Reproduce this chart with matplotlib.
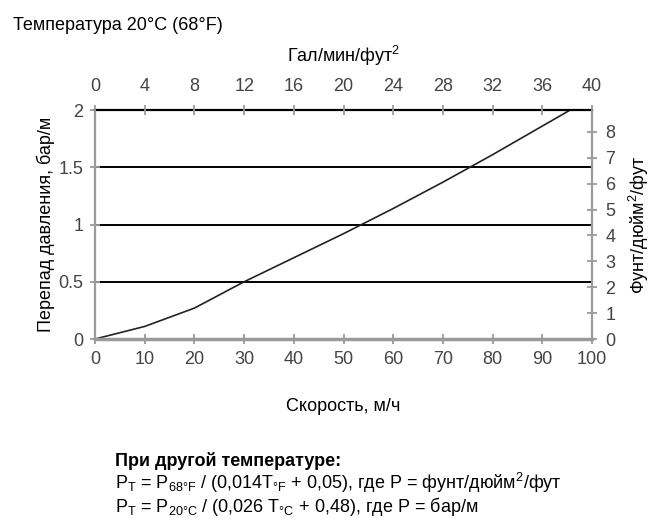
import matplotlib
matplotlib.use("Agg")
import matplotlib.pyplot as plt

# скорость (м/ч) и перепад давления (бар/м)
speed = [0, 10, 20, 30, 40, 50, 60, 70, 80, 90, 95.6]
dp = [0, 0.11, 0.27, 0.5, 0.71, 0.92, 1.14, 1.37, 1.61, 1.86, 2.0]

x_ticks = [0, 10, 20, 30, 40, 50, 60, 70, 80, 90, 100]
y_ticks = [0, 0.5, 1, 1.5, 2]
y_labels = ["0", "0.5", "1", "1.5", "2"]
gpm_ticks = [0, 4, 8, 12, 16, 20, 24, 28, 32, 36, 40]
psi_ticks = [0, 1, 2, 3, 4, 5, 6, 7, 8]
grid_levels = [0.5, 1, 1.5, 2]

psi_per_bar = 14.5038 / 3.28084

plt.rcParams['font.family'] = ['Liberation Sans', 'DejaVu Sans']
plt.rcParams['mathtext.fontset'] = 'custom'
plt.rcParams['mathtext.rm'] = 'Liberation Sans'
plt.rcParams['mathtext.it'] = 'Liberation Sans'

gray = "#9a9a9a"
tick_col = "#444444"
fs = 13

fig = plt.figure(figsize=(6.5, 5.19), dpi=100)
ax = fig.add_axes([0.1462, 0.3468, 0.7646, 0.4412])

for lv in grid_levels:
    ax.axhline(lv, color="black", lw=1.4, zorder=1)
ax.plot(speed, dp, color="#222222", lw=1.2, zorder=2)

ax.set_xlim(0, 100)
ax.set_ylim(0, 2)
ax.set_xticks(x_ticks)
ax.set_yticks(y_ticks)
ax.set_yticklabels(y_labels)
ax.tick_params(direction="inout", length=7, width=1.3, color=gray,
               labelsize=fs, labelcolor=tick_col, pad=5)
ax.spines["left"].set_color(gray)
ax.spines["left"].set_linewidth(1.6)
ax.spines["bottom"].set_color(gray)
ax.spines["bottom"].set_linewidth(2.5)
ax.spines["top"].set_color("black")
ax.spines["top"].set_linewidth(1.6)
ax.spines["right"].set_color(gray)
ax.spines["right"].set_linewidth(1.6)

# правая ось: фунт/дюйм2/фут
axr = ax.twinx()
axr.set_ylim(0, 2 * psi_per_bar)
axr.set_yticks(psi_ticks)
axr.tick_params(direction="inout", length=7, width=1.3, color=gray,
                labelsize=fs, labelcolor=tick_col, pad=6)
for s in axr.spines.values():
    s.set_visible(False)

# верхняя ось: гал/мин/фут2
axt = ax.twiny()
axt.set_xlim(0, 40)
axt.set_xticks(gpm_ticks)
axt.tick_params(direction="inout", length=7, width=1.3, color=gray,
                labelsize=fs, labelcolor=tick_col, pad=7)
for s in axt.spines.values():
    s.set_visible(False)

ax.set_xlabel("Скорость, м/ч", fontsize=fs, labelpad=22)
ax.set_ylabel("Перепад давления, бар/м", fontsize=fs, labelpad=2)
axr.set_ylabel("Фунт/дюйм$^2$/фут", fontsize=fs, labelpad=8)
axt.set_xlabel("Гал/мин/фут$^2$", fontsize=fs, labelpad=12)

fig.text(13 / 650, 1 - 25 / 519, "Температура 20°C (68°F)", fontsize=fs,
         ha="left", va="center")

fig.text(115 / 650, 1 - 461 / 519, "При другой температуре:", fontsize=fs,
         fontweight="bold", ha="left", va="center")
fig.text(115 / 650, 1 - 483 / 519,
         r"P$_\mathrm{T}$ = P$_\mathrm{68°F}$ / (0,014T$_\mathrm{°F}$ + 0,05), где P = фунт/дюйм$^2$/фут",
         fontsize=fs, ha="left", va="center")
fig.text(115 / 650, 1 - 507 / 519,
         r"P$_\mathrm{T}$ = P$_\mathrm{20°C}$ / (0,026 T$_\mathrm{°C}$ + 0,48), где P = бар/м",
         fontsize=fs, ha="left", va="center")

fig.savefig("out.png", dpi=100)
